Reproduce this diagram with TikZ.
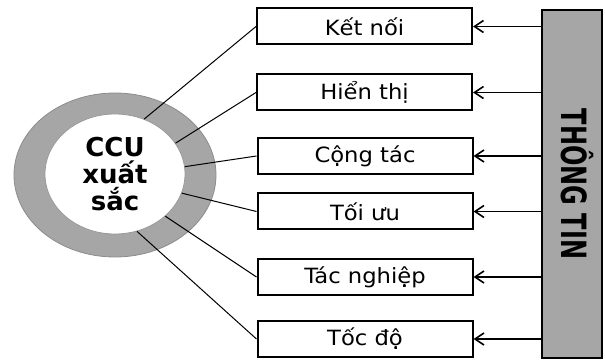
\documentclass[tikz,border=0pt]{standalone}
\usepackage{fontspec}
\setmainfont{DejaVu Sans}
\newfontfamily\boxfont[FakeStretch=1.08]{DejaVu Sans}
\usetikzlibrary{arrows.meta,positioning,shapes.geometric}

\begin{document}
\begin{tikzpicture}[
    x=1pt, y=-1pt,
    item/.style={draw, line width=2pt, minimum width=215pt, minimum height=36pt, inner sep=0pt, font=\boxfont\fontsize{21}{24}\selectfont},
    link/.style={line width=1pt},
    feed/.style={-{Straight Barb[length=9pt,width=12pt,line width=1.6pt]}, line width=1.5pt},
    ring/.style={fill=black!35, draw=black!45, line width=0.8pt}
]
\useasboundingbox (0,0) rectangle (605,363);
% Core ring
\draw[ring] (115,175) ellipse [x radius=101, y radius=82];
\node[ellipse, draw=black!40, fill=white, line width=0.8pt, minimum width=140pt, minimum height=120pt, inner sep=0pt, align=center, font=\bfseries\fontsize{26}{27}\selectfont] (ccu) at (115,174) {CCU\\xuất\\sắc};
% Criteria boxes
\node[item] (k1) at (364.5,26.5) {Kết nối};
\node[item] (k2) at (364.5,92.5) {Hiển thị};
\node[item] (k3) at (365,156) {Cộng tác};
\node[item] (k4) at (365,211.5) {Tối ưu};
\node[item] (k5) at (365,277) {Tác nghiệp};
\node[item] (k6) at (365,339) {Tốc độ};
% Information bar
\node[draw, line width=2pt, fill=black!35, minimum width=60pt, minimum height=348pt, inner sep=0pt] (info) at (572,184) {};
\node (infotext) at (577,184) {\rotatebox{-90}{\scalebox{1}[1.45]{\bfseries\fontsize{24}{24}\selectfont THÔNG TIN}}};
% Links from the ring
\draw[link] (ccu.62) -- (k1.west);
\draw[link] (ccu.27) -- (k2.west);
\draw[link] (ccu.6) -- (k3.west);
\draw[link] (ccu.-16) -- (k4.west);
\draw[link] (ccu.-40) -- (k5.west);
\draw[link] (ccu.-69) -- (k6.west);
% Arrows from the bar
\draw[feed] (info.west |- k1) -- (k1.east);
\draw[feed] (info.west |- k2) -- (k2.east);
\draw[feed] (info.west |- k3) -- (k3.east);
\draw[feed] (info.west |- k4) -- (k4.east);
\draw[feed] (info.west |- k5) -- (k5.east);
\draw[feed] (info.west |- k6) -- (k6.east);
\end{tikzpicture}
\end{document}
